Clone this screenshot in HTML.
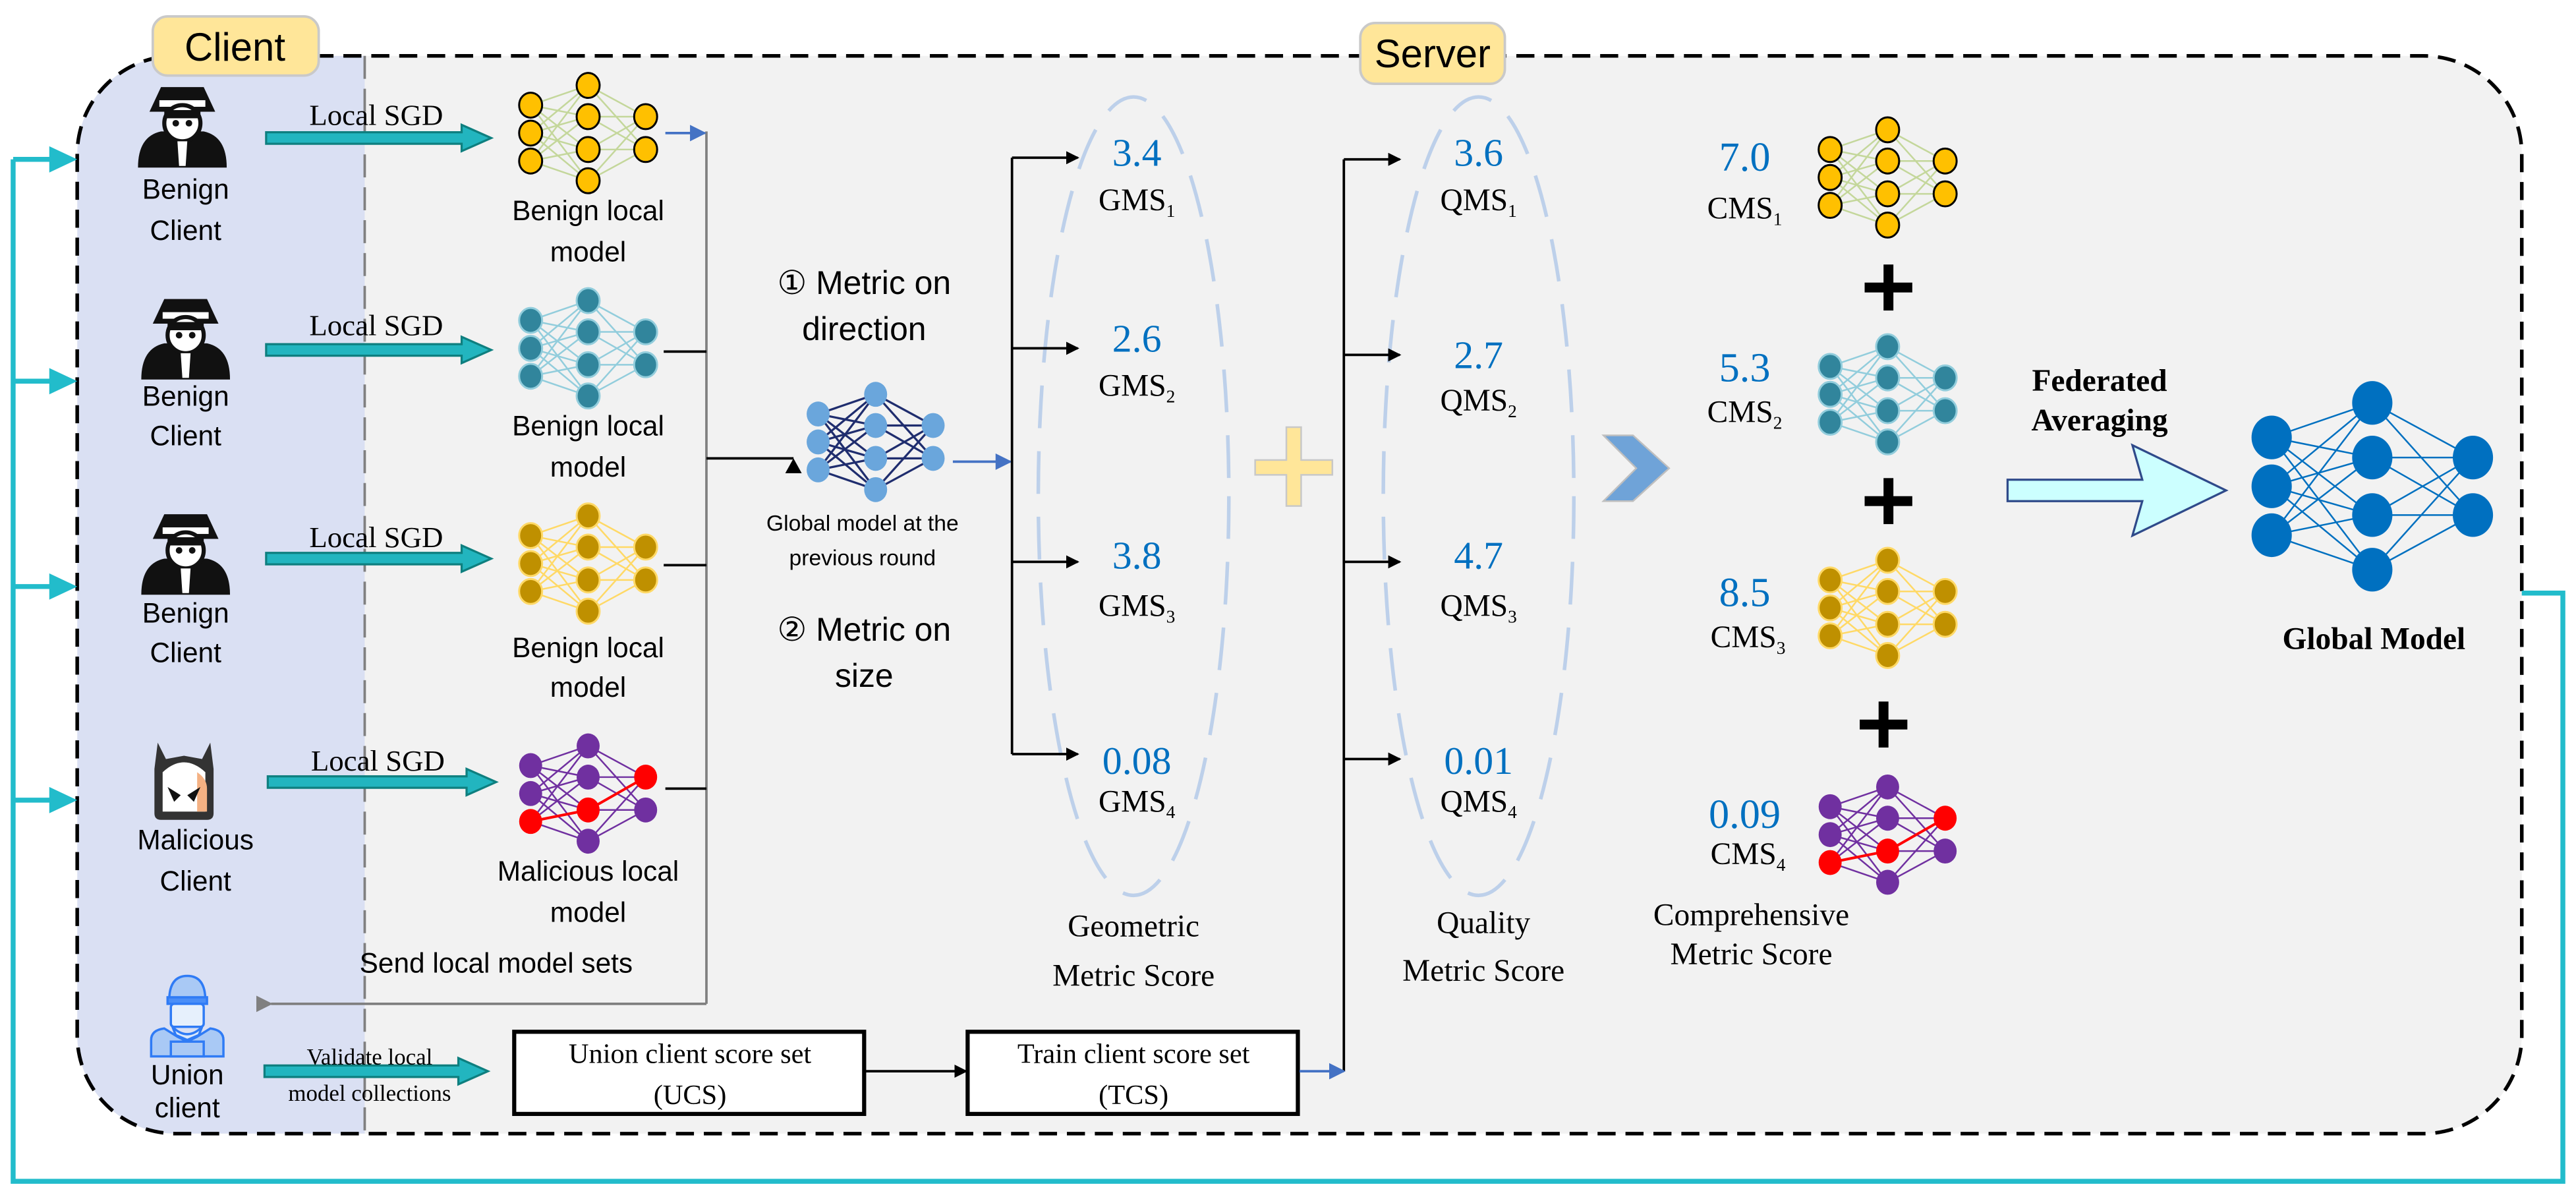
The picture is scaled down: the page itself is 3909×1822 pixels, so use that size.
<!DOCTYPE html>
<html><head><meta charset="utf-8"><style>
html,body{margin:0;padding:0;background:#fff;}
svg{display:block;}
.s{font-family:"Liberation Sans",sans-serif;}
.r{font-family:"Liberation Serif",serif;}
</style></head><body>
<svg id="m" xmlns="http://www.w3.org/2000/svg" width="3909" height="1822" viewBox="0 0 1568 731" preserveAspectRatio="none">
<defs>
<clipPath id="oc"><rect x="47" y="34" width="1488" height="656" rx="60" ry="60"/></clipPath>
<marker id="ab" markerWidth="8" markerHeight="8" refX="7" refY="4" orient="auto" markerUnits="userSpaceOnUse"><path d="M0,0 L8,4 L0,8 z" fill="#000"/></marker>
<marker id="abl" markerWidth="10" markerHeight="10" refX="9" refY="5" orient="auto" markerUnits="userSpaceOnUse"><path d="M0,0 L10,5 L0,10 z" fill="#4472c4"/></marker>
<marker id="ag" markerWidth="10" markerHeight="10" refX="1" refY="5" orient="auto" markerUnits="userSpaceOnUse"><path d="M10,0 L0,5 L10,10 z" fill="#808080"/></marker>
</defs>
<rect x="47" y="34" width="1488" height="656" rx="60" ry="60" fill="#f2f2f2"/>
<rect x="47" y="34" width="175" height="656" fill="#dae0f3" clip-path="url(#oc)"/>
<line x1="222" y1="34" x2="222" y2="690" stroke="#808080" stroke-width="1.5" stroke-dasharray="14,6"/>
<rect x="47" y="34" width="1488" height="656" rx="60" ry="60" fill="none" stroke="#000" stroke-width="2.2" stroke-dasharray="11,6"/>
<rect x="93" y="10" width="101" height="36" rx="9" fill="#ffe699" stroke="#c9c9c9" stroke-width="1.5"/>
<text x="143" y="37" class="s" font-size="24" text-anchor="middle">Client</text>
<rect x="828" y="14" width="88" height="37" rx="9" fill="#ffe699" stroke="#c9c9c9" stroke-width="1.5"/>
<text x="872" y="41" class="s" font-size="24" text-anchor="middle">Server</text>
<polyline points="1535,361 1560,361 1560,719 8,719 8,97" fill="none" stroke="#22bccb" stroke-width="3"/>
<g fill="#22bccb">
<line x1="8" y1="97" x2="32" y2="97" stroke="#22bccb" stroke-width="3"/><path d="M30,89 L47,97 L30,105z"/>
<line x1="8" y1="232" x2="32" y2="232" stroke="#22bccb" stroke-width="3"/><path d="M30,224 L47,232 L30,240z"/>
<line x1="8" y1="357" x2="32" y2="357" stroke="#22bccb" stroke-width="3"/><path d="M30,349 L47,357 L30,365z"/>
<line x1="8" y1="487" x2="32" y2="487" stroke="#22bccb" stroke-width="3"/><path d="M30,479 L47,487 L30,495z"/>
</g>
<g id="icons"></g>
<g class="s" font-size="17" text-anchor="middle">
<text x="113" y="121">Benign</text><text x="113" y="146">Client</text>
<text x="113" y="247">Benign</text><text x="113" y="271">Client</text>
<text x="113" y="379">Benign</text><text x="113" y="403">Client</text>
<text x="119" y="517">Malicious</text><text x="119" y="542">Client</text>
<text x="114" y="660">Union</text><text x="114" y="680">client</text>
</g>
<g id="sgd"></g>
<g class="r" font-size="18" text-anchor="middle">
<text x="229" y="76">Local SGD</text>
<text x="229" y="204">Local SGD</text>
<text x="229" y="333">Local SGD</text>
<text x="230" y="469">Local SGD</text>
<text x="225" y="648" font-size="14">Validate local</text>
<text x="225" y="670" font-size="14">model collections</text>
</g>
<g class="s" font-size="17" text-anchor="middle">
<text x="358" y="134">Benign local</text><text x="358" y="159">model</text>
<text x="358" y="265">Benign local</text><text x="358" y="290">model</text>
<text x="358" y="400">Benign local</text><text x="358" y="424">model</text>
<text x="358" y="536">Malicious local</text><text x="358" y="561">model</text>
<text x="302" y="592">Send local model sets</text>
</g>
<line x1="430" y1="80" x2="430" y2="611" stroke="#808080" stroke-width="1.5"/>
<line x1="405" y1="81" x2="429" y2="81" stroke="#4472c4" stroke-width="1.5" marker-end="url(#abl)"/>
<line x1="404" y1="214" x2="430" y2="214" stroke="#000" stroke-width="1.5"/>
<line x1="404" y1="344" x2="430" y2="344" stroke="#000" stroke-width="1.5"/>
<line x1="405" y1="480" x2="430" y2="480" stroke="#000" stroke-width="1.5"/>
<line x1="430" y1="279" x2="483" y2="279" stroke="#000" stroke-width="1.5"/>
<path d="M478,288 L483,279 L488,288z" fill="#000"/>
<line x1="430" y1="611" x2="165" y2="611" stroke="#808080" stroke-width="1.5" marker-end="url(#ag)"/>
<line x1="580" y1="281" x2="615" y2="281" stroke="#4472c4" stroke-width="1.5" marker-end="url(#abl)"/>
<g class="s" text-anchor="middle">
<text x="526" y="179" font-size="20">① Metric on</text>
<text x="526" y="207" font-size="20">direction</text>
<text x="525" y="323" font-size="13.5">Global model at the</text>
<text x="525" y="344" font-size="13.5">previous round</text>
<text x="526" y="390" font-size="20">② Metric on</text>
<text x="526" y="418" font-size="20">size</text>
</g>
<ellipse cx="690" cy="302" rx="58" ry="243" fill="none" stroke="#bdd0ea" stroke-width="2.2" stroke-dasharray="26,14"/>
<ellipse cx="900" cy="302" rx="58" ry="243" fill="none" stroke="#bdd0ea" stroke-width="2.2" stroke-dasharray="26,14"/>
<g stroke="#000" stroke-width="1.5" fill="none">
<polyline points="616,459 616,96"/>
<line x1="616" y1="96" x2="656" y2="96" marker-end="url(#ab)"/>
<line x1="616" y1="212" x2="656" y2="212" marker-end="url(#ab)"/>
<line x1="616" y1="342" x2="656" y2="342" marker-end="url(#ab)"/>
<line x1="616" y1="459" x2="656" y2="459" marker-end="url(#ab)"/>
<polyline points="818,652 818,97"/>
<line x1="818" y1="97" x2="852" y2="97" marker-end="url(#ab)"/>
<line x1="818" y1="216" x2="852" y2="216" marker-end="url(#ab)"/>
<line x1="818" y1="342" x2="852" y2="342" marker-end="url(#ab)"/>
<line x1="818" y1="462" x2="852" y2="462" marker-end="url(#ab)"/>
</g>
<g class="r" text-anchor="middle">
<g fill="#0070c0" font-size="24">
<text x="692" y="101">3.4</text><text x="692" y="214">2.6</text><text x="692" y="346">3.8</text><text x="692" y="471">0.08</text>
<text x="900" y="101">3.6</text><text x="900" y="224">2.7</text><text x="900" y="346">4.7</text><text x="900" y="471">0.01</text>
</g>
<g font-size="19">
<text x="692" y="128">GMS<tspan font-size="11" dy="4">1</tspan></text>
<text x="692" y="241">GMS<tspan font-size="11" dy="4">2</tspan></text>
<text x="692" y="375">GMS<tspan font-size="11" dy="4">3</tspan></text>
<text x="692" y="494">GMS<tspan font-size="11" dy="4">4</tspan></text>
<text x="900" y="128">QMS<tspan font-size="11" dy="4">1</tspan></text>
<text x="900" y="250">QMS<tspan font-size="11" dy="4">2</tspan></text>
<text x="900" y="375">QMS<tspan font-size="11" dy="4">3</tspan></text>
<text x="900" y="494">QMS<tspan font-size="11" dy="4">4</tspan></text>
<text x="690" y="570">Geometric</text><text x="690" y="600">Metric Score</text>
<text x="903" y="568">Quality</text><text x="903" y="597">Metric Score</text>
</g>
</g>
<path d="M783,260 h9 v20 h19 v9 h-19 v19 h-9 v-19 h-19 v-9 h19z" fill="#ffe699" stroke="#c8c8c8" stroke-width="1"/>
<path d="M976,265 L994,265 L1016,285 L994,305 L976,305 L996,285z" fill="#6fa3d8" stroke="#bfbfbf" stroke-width="1"/>
<g class="r" text-anchor="middle">
<g fill="#0070c0" font-size="25">
<text x="1062" y="104">7.0</text><text x="1062" y="232">5.3</text><text x="1062" y="369">8.5</text><text x="1062" y="504">0.09</text>
</g>
<g font-size="19">
<text x="1062" y="133">CMS<tspan font-size="11" dy="4">1</tspan></text>
<text x="1062" y="257">CMS<tspan font-size="11" dy="4">2</tspan></text>
<text x="1064" y="394">CMS<tspan font-size="11" dy="4">3</tspan></text>
<text x="1064" y="526">CMS<tspan font-size="11" dy="4">4</tspan></text>
<text x="1066" y="563">Comprehensive</text><text x="1066" y="587">Metric Score</text>
</g>
<g font-weight="bold" font-size="19">
<text x="1278" y="238">Federated</text><text x="1278" y="262">Averaging</text>
<text x="1445" y="395">Global Model</text>
</g>
</g>
<g fill="#000">
<rect x="1135" y="172" width="29" height="6"/><rect x="1146.5" y="161" width="6" height="28"/>
<rect x="1135" y="302" width="29" height="6"/><rect x="1146.5" y="291" width="6" height="28"/>
<rect x="1132" y="438" width="29" height="6"/><rect x="1143.5" y="427" width="6" height="28"/>
</g>
<path d="M1222,292 L1304,292 L1298,271 L1355,298.5 L1298,326 L1304,305 L1222,305z" fill="#ccffff" stroke="#2f4a8a" stroke-width="1.3"/>
<rect x="313" y="628" width="213" height="50" fill="#fff" stroke="#000" stroke-width="2.5"/>
<rect x="589" y="628" width="201" height="50" fill="#fff" stroke="#000" stroke-width="2.5"/>
<g class="r" font-size="17" text-anchor="middle">
<text x="420" y="647">Union client score set</text><text x="420" y="672">(UCS)</text>
<text x="690" y="647">Train client score set</text><text x="690" y="672">(TCS)</text>
</g>
<line x1="527" y1="652" x2="588" y2="652" stroke="#000" stroke-width="1.5" marker-end="url(#ab)"/>
<line x1="791" y1="652" x2="818" y2="652" stroke="#4472c4" stroke-width="1.5" marker-end="url(#abl)"/>
<g id="nets"></g>
</svg>
<script>
var NS="http://www.w3.org/2000/svg";
function el(p,t,a){var e=document.createElementNS(NS,t);for(var k in a)e.setAttribute(k,a[k]);p.appendChild(e);return e;}
var nets=document.getElementById("nets");
function net(cx,cy,s,fill,stroke,edge,ew,red){
  red=red||{};
  var dx=35*s,L=[[-17,0,17],[-29,-10,10,29],[-10,10]],P=[];
  for(var i=0;i<3;i++){P.push(L[i].map(function(o){return [cx+(i-1)*dx,cy+o*s];}));}
  var g=el(nets,"g",{});
  for(var i=0;i<2;i++)for(var a=0;a<P[i].length;a++)for(var b=0;b<P[i+1].length;b++){
    var isr=red.e&&red.e.some(function(q){return q[0]==i&&q[1]==a&&q[2]==b;});
    el(g,"line",{x1:P[i][a][0],y1:P[i][a][1],x2:P[i+1][b][0],y2:P[i+1][b][1],stroke:isr?"#ff0000":edge,"stroke-width":isr?1.6:ew});
  }
  for(var i=0;i<3;i++)for(var a=0;a<P[i].length;a++){
    var isr=red.n&&red.n.some(function(q){return q[0]==i&&q[1]==a;});
    el(g,"ellipse",{cx:P[i][a][0],cy:P[i][a][1],rx:7*s,ry:7.6*s,fill:isr?"#ff0000":fill,stroke:stroke,"stroke-width":stroke=="none"?0:1.2});
  }
}
var mal={n:[[0,2],[1,2],[2,0]],e:[[0,2,2],[1,2,0]]};
function four(cx,cys){
 net(cx,cys[0],1,"#ffc000","#000","#c4d79b",1);
 net(cx,cys[1],1,"#31859c","#92cddc","#92cddc",1);
 net(cx,cys[2],1,"#bf9000","#ffd966","#ffd966",1);
 net(cx,cys[3],1,"#7030a0","none","#7030a0",1,mal);
}
four(358,[81,212,343,483]);
four(1149,[108,240,370,508]);
net(533,269,1,"#6aa6dc","none","#1f2d6e",1.3);
net(1444,296,1.75,"#0070c0","none","#0070c0",1);
var sg=document.getElementById("sgd");
function sgd(x1,x2,y){
  el(sg,"path",{d:"M"+x1+","+(y-3.5)+" L"+(x2-18)+","+(y-3.5)+" L"+(x2-18)+","+(y-8)+" L"+x2+","+y+" L"+(x2-18)+","+(y+8)+" L"+(x2-18)+","+(y+3.5)+" L"+x1+","+(y+3.5)+"z",fill:"#22b5bf",stroke:"#0e7f7f","stroke-width":1.3});
}
sgd(162,299,84);sgd(162,299,213);sgd(162,299,340);sgd(163,302,476);sgd(161,297,652);
var ic=document.getElementById("icons");
function spy(cx,top){
  var g=el(ic,"g",{});
  el(g,"path",{d:"M"+(cx-27)+","+(top+49)+" Q"+(cx-27)+","+(top+30)+" "+(cx-13)+","+(top+27)+" L"+(cx+13)+","+(top+27)+" Q"+(cx+27)+","+(top+30)+" "+(cx+27)+","+(top+49)+"z",fill:"#111"});
  el(g,"path",{d:"M"+(cx-20)+","+(top+15)+" L"+(cx-13)+","+(top)+" L"+(cx+13)+","+(top)+" L"+(cx+20)+","+(top+15)+"z",fill:"#111"});
  el(g,"rect",{x:cx-14,y:top+8,width:28,height:4,fill:"#fff"});
  el(g,"circle",{cx:cx,cy:top+22,r:11,fill:"#fff",stroke:"#111","stroke-width":2.5});
  el(g,"rect",{x:cx-11,y:top+14,width:22,height:5,fill:"#111"});
  el(g,"circle",{cx:cx-4,cy:top+22,r:2,fill:"#111"});el(g,"circle",{cx:cx+4,cy:top+22,r:2,fill:"#111"});
  el(g,"path",{d:"M"+(cx-3)+","+(top+33)+" L"+(cx+3)+","+(top+33)+" L"+(cx+2)+","+(top+48)+" L"+(cx-2)+","+(top+48)+"z",fill:"#fff"});
}
spy(111,53);spy(113,182);spy(113,313);
var g=el(ic,"g",{});
el(g,"path",{d:"M96,452 L101,462 L112,460 L123,462 L128,452 L130,468 L130,495 Q130,499 126,499 L98,499 Q94,499 94,495 L94,468z",fill:"#333"});
el(g,"path",{d:"M99,470 Q112,458 125,470 L125,494 L99,494z",fill:"#fff"});
el(g,"path",{d:"M120,470 Q126,474 126,480 L126,494 L120,494z",fill:"#f4b183"});
el(g,"path",{d:"M102,479 L110,484 L106,488z M122,479 L114,484 L118,488z",fill:"#111"});
var u=el(ic,"g",{fill:"#a9c9f5",stroke:"#2f7bf5","stroke-width":1.4});
el(u,"path",{d:"M103,609 Q103,594 114,594 Q125,594 125,609z"});
el(u,"rect",{x:102,y:607,width:24,height:4,fill:"#4a8ef7"});
el(u,"rect",{x:104,y:611,width:20,height:14,rx:2,fill:"#e6f0fc"});
el(u,"path",{d:"M105,625 Q114,634 123,625 L121,630 L114,633 L107,630z",fill:"#dbe8fb"});
el(u,"path",{d:"M92,643 L92,633 Q92,627 100,626 L108,631 L114,634 L120,631 L128,626 Q136,627 136,633 L136,643z"});
el(u,"rect",{x:104,y:634,width:20,height:9,fill:"#a9c9f5"});
</script>
</body></html>
